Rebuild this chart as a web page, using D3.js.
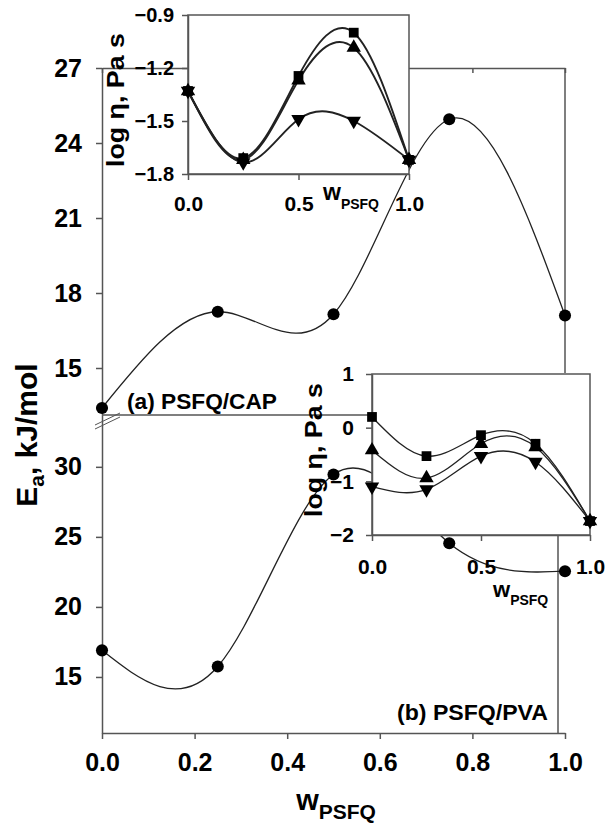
<!DOCTYPE html>
<html>
<head>
<meta charset="utf-8">
<script src="https://cdn.jsdelivr.net/npm/d3@7"></script>
<style>
body { margin: 0; background: #fff; }
text { font-family: Arial, "Liberation Sans", sans-serif; fill: #000; }
</style>
</head>
<body>
<svg width="605" height="825"></svg>
<script>
// data
var wPSFQ = [0, 0.25, 0.5, 0.75, 1.0];
var eaCAP = [13.4, 17.25, 17.15, 24.95, 17.1];
var eaPVA = [16.9, 15.75, 29.45, 24.55, 22.55];

var capSquare = [-1.33, -1.71, -1.245, -1.0, -1.72];
var capUp     = [-1.33, -1.72, -1.27, -1.085, -1.72];
var capDown   = [-1.33, -1.735, -1.49, -1.5, -1.72];

var pvaSquare = [0.2, -0.53, -0.14, -0.3, -1.74];
var pvaUp     = [-0.42, -0.94, -0.3, -0.36, -1.74];
var pvaDown   = [-1.1, -1.15, -0.53, -0.64, -1.74];

var xTicks = [0, 0.2, 0.4, 0.6, 0.8, 1.0];
var capTicks = [15, 18, 21, 24, 27];
var pvaTicks = [15, 20, 25, 30];
var insetCapTicks = [-1.8, -1.5, -1.2, -0.9];
var insetPvaTicks = [-2, -1, 0, 1];
var insetXTicks = [0, 0.5, 1.0];

var svg = d3.select("svg");
var axisCol = "#555";

var x = d3.scaleLinear().domain([0, 1]).range([102, 565]);
var yA = d3.scaleLinear().domain([13.12, 27]).range([415, 68]);
var yB = d3.scaleLinear().domain([11, 33.7]).range([733, 415]);

function styleAxis(g, size) {
  g.selectAll("path, line").attr("stroke", axisCol).attr("stroke-width", 1.5);
  g.selectAll("text").style("font-weight", "bold").style("font-size", size + "px").attr("fill", "#000");
}

function pts(xs, ys) {
  return xs.map(function(d, i) { return [d, ys[i]]; });
}

function drawCurve(g, xs, ys, sx, sy, w) {
  var line = d3.line().curve(d3.curveNatural)
    .x(function(d) { return sx(d[0]); })
    .y(function(d) { return sy(d[1]); });
  g.append("path").datum(pts(xs, ys))
    .attr("d", line).attr("fill", "none")
    .attr("stroke", "#222").attr("stroke-width", w);
}

function drawMarks(g, xs, ys, sx, sy, shape, size) {
  g.selectAll(null).data(pts(xs, ys)).enter().append("path")
    .attr("transform", function(d) { return "translate(" + sx(d[0]) + "," + sy(d[1]) + ")" + (shape === "down" ? " rotate(180)" : ""); })
    .attr("d", d3.symbol().type(shape === "circle" ? d3.symbolCircle : shape === "square" ? d3.symbolSquare : d3.symbolTriangle).size(size))
    .attr("fill", "#000");
}

// ---- main frame ----
var main = svg.append("g");

var gTop = main.append("g").attr("transform", "translate(0," + yA(27) + ")")
  .call(d3.axisTop(x).tickValues(xTicks).tickSize(-5).tickSizeOuter(0).tickFormat(""));
styleAxis(gTop, 10);

main.append("line").attr("x1", x(1)).attr("x2", x(1)).attr("y1", yA(27)).attr("y2", 373)
  .attr("stroke", axisCol).attr("stroke-width", 1.5);
main.append("line").attr("x1", x(1) - 7).attr("x2", x(1) - 7).attr("y1", 535).attr("y2", yB(11))
  .attr("stroke", axisCol).attr("stroke-width", 1.5);
main.append("line").attr("x1", x(0)).attr("x2", 372).attr("y1", yA(13.12)).attr("y2", yA(13.12))
  .attr("stroke", axisCol).attr("stroke-width", 1.5);

var gYA = main.append("g").attr("transform", "translate(" + x(0) + ",0)")
  .call(d3.axisLeft(yA).tickValues(capTicks).tickSize(6).tickSizeOuter(0).tickPadding(14));
styleAxis(gYA, 25);
var gYB = main.append("g").attr("transform", "translate(" + x(0) + ",0)")
  .call(d3.axisLeft(yB).tickValues(pvaTicks).tickSize(6).tickSizeOuter(0).tickPadding(14));
styleAxis(gYB, 25);
var gX = main.append("g").attr("transform", "translate(0," + yB(11) + ")")
  .call(d3.axisBottom(x).tickValues(xTicks).tickSize(6).tickSizeOuter(0).tickPadding(14).tickFormat(d3.format(".1f")));
styleAxis(gX, 25);

// axis break
[0, 4].forEach(function(o) {
  main.append("line").attr("x1", x(0) - 7).attr("y1", 425 + o).attr("x2", x(0) + 18).attr("y2", 413 + o)
    .attr("stroke", axisCol).attr("stroke-width", 1);
});

drawCurve(main, wPSFQ, eaCAP, x, yA, 1.3);
drawMarks(main, wPSFQ, eaCAP, x, yA, "circle", 115);
drawCurve(main, wPSFQ, eaPVA, x, yB, 1.3);
drawMarks(main, wPSFQ, eaPVA, x, yB, "circle", 115);

main.append("text").attr("x", 127).attr("y", 409).style("font-size", "22px").style("font-weight", "bold")
  .attr("textLength", 150).attr("lengthAdjust", "spacingAndGlyphs").text("(a) PSFQ/CAP");
main.append("text").attr("x", 397).attr("y", 720).style("font-size", "22px").style("font-weight", "bold")
  .attr("textLength", 151).attr("lengthAdjust", "spacingAndGlyphs").text("(b) PSFQ/PVA");

var yt = main.append("text").attr("transform", "translate(37,435) rotate(-90)")
  .attr("text-anchor", "middle").style("font-size", "30px").style("font-weight", "bold");
yt.append("tspan").text("E");
yt.append("tspan").attr("dy", 7).style("font-size", "21px").text("a");
yt.append("tspan").attr("dy", -7).text(", kJ/mol");

var xt = main.append("text").attr("x", 336).attr("y", 810).attr("text-anchor", "middle")
  .style("font-weight", "bold").style("font-size", "29px");
xt.append("tspan").text("w");
xt.append("tspan").attr("dy", 9).style("font-size", "21px").text("PSFQ");

// ---- inset (a) ----
var xa = d3.scaleLinear().domain([0, 1]).range([188, 409]);
var ya = d3.scaleLinear().domain([-1.8, -0.9]).range([174, 15]);
var ia = svg.append("g");
ia.append("rect").attr("x", xa(0)).attr("y", ya(-0.9)).attr("width", xa(1) - xa(0)).attr("height", ya(-1.8) - ya(-0.9))
  .attr("fill", "#fff").attr("stroke", axisCol).attr("stroke-width", 1.5);
styleAxis(ia.append("g").attr("transform", "translate(" + xa(0) + ",0)")
  .call(d3.axisLeft(ya).tickValues(insetCapTicks).tickSize(6).tickSizeOuter(0).tickPadding(8).tickFormat(d3.format(".1f"))), 20);
styleAxis(ia.append("g").attr("transform", "translate(0," + ya(-1.8) + ")")
  .call(d3.axisBottom(xa).tickValues(insetXTicks).tickSize(6).tickSizeOuter(0).tickPadding(16).tickFormat(d3.format(".1f"))), 21);
[[capSquare, "square"], [capUp, "up"], [capDown, "down"]].forEach(function(s) {
  drawCurve(ia, wPSFQ, s[0], xa, ya, 1.9);
});
drawMarks(ia, wPSFQ, capDown, xa, ya, "down", 90);
drawMarks(ia, wPSFQ, capUp, xa, ya, "up", 90);
drawMarks(ia, wPSFQ, capSquare, xa, ya, "square", 95);
ia.append("text").attr("transform", "translate(124,100) rotate(-90)").attr("text-anchor", "middle")
  .style("font-size", "23px").style("font-weight", "bold")
  .attr("textLength", 134).attr("lengthAdjust", "spacingAndGlyphs").text("log \u03b7, Pa s");
var xtA = ia.append("text").attr("x", 323).attr("y", 200).style("font-weight", "bold").style("font-size", "23px");
xtA.append("tspan").text("w");
xtA.append("tspan").attr("dy", 9).style("font-size", "14px").text("PSFQ");

// ---- inset (b) ----
var xb = d3.scaleLinear().domain([0, 1]).range([372, 590]);
var yb = d3.scaleLinear().domain([-2, 1]).range([535, 374]);
var ib = svg.append("g");
ib.append("rect").attr("x", xb(0)).attr("y", yb(1)).attr("width", xb(1) - xb(0)).attr("height", yb(-2) - yb(1))
  .attr("fill", "#fff").attr("stroke", axisCol).attr("stroke-width", 1.5);
styleAxis(ib.append("g").attr("transform", "translate(" + xb(0) + ",0)")
  .call(d3.axisLeft(yb).tickValues(insetPvaTicks).tickSize(6).tickSizeOuter(0).tickPadding(12).tickFormat(d3.format("d"))), 21);
styleAxis(ib.append("g").attr("transform", "translate(0," + yb(-2) + ")")
  .call(d3.axisBottom(xb).tickValues(insetXTicks).tickSize(6).tickSizeOuter(0).tickPadding(18).tickFormat(d3.format(".1f"))), 21);
[[pvaSquare, "square"], [pvaUp, "up"], [pvaDown, "down"]].forEach(function(s) {
  drawCurve(ib, wPSFQ, s[0], xb, yb, 1.3);
});
drawMarks(ib, wPSFQ, pvaDown, xb, yb, "down", 90);
drawMarks(ib, wPSFQ, pvaUp, xb, yb, "up", 90);
drawMarks(ib, wPSFQ, pvaSquare, xb, yb, "square", 95);
ib.append("text").attr("transform", "translate(322,450) rotate(-90)").attr("text-anchor", "middle")
  .style("font-size", "23px").style("font-weight", "bold")
  .attr("textLength", 134).attr("lengthAdjust", "spacingAndGlyphs").text("log \u03b7, Pa s");
var xtB = ib.append("text").attr("x", 493).attr("y", 597).style("font-weight", "bold").style("font-size", "22px");
xtB.append("tspan").text("w");
xtB.append("tspan").attr("dy", 8).style("font-size", "14px").text("PSFQ");
</script>
</body>
</html>
